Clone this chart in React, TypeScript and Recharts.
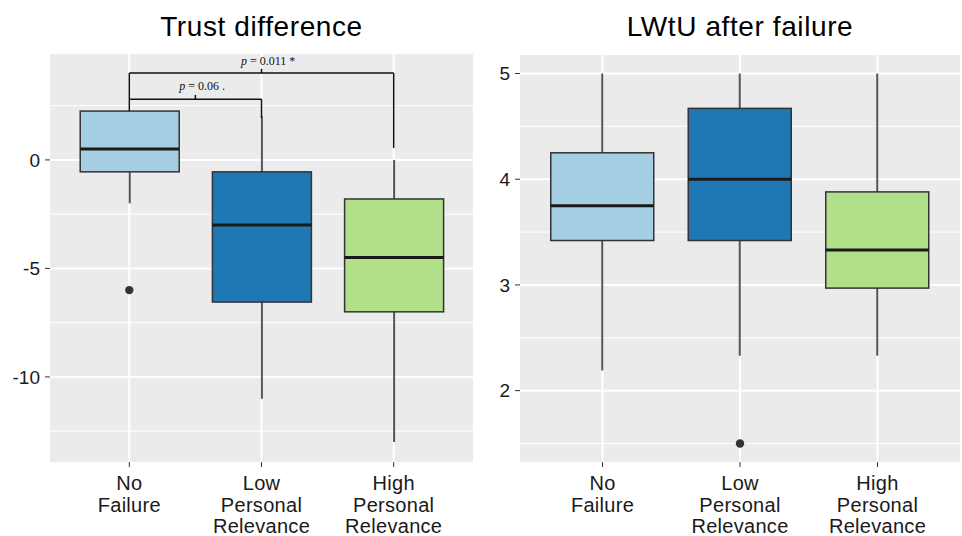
import React from 'react';
import {
  ComposedChart, Bar, Scatter, XAxis, YAxis, CartesianGrid, ReferenceLine, ReferenceDot
} from 'recharts';

// groups (x positions 1..3 on a numeric axis so brackets can sit between them)
const positions = [1, 2, 3];
const categoryLines = [
  ['No', 'Failure'],
  ['Low', 'Personal', 'Relevance'],
  ['High', 'Personal', 'Relevance'],
];
const boxColors = ['#A6CEE3', '#1F78B4', '#B2DF8A'];

// Trust difference
const trustMin = [-2, -11, -13];
const trustQ1 = [-0.55, -6.55, -7.0];
const trustMedian = [0.5, -3, -4.5];
const trustQ3 = [2.25, -0.55, -1.8];
const trustMax = [2.25, 2, 0];
const trustOutliers = [{ x: 1, y: -6 }];
const trustTicks = [-10, -5, 0];
const trustMinor = [-12.5, -7.5, -2.5, 2.5];

// LWtU after failure
const lwtuMin = [2.19, 2.33, 2.33];
const lwtuQ1 = [3.42, 3.42, 2.97];
const lwtuMedian = [3.75, 4.0, 3.33];
const lwtuQ3 = [4.25, 4.67, 3.88];
const lwtuMax = [5, 5, 5];
const lwtuOutliers = [{ x: 2, y: 1.5 }];
const lwtuTicks = [2, 3, 4, 5];
const lwtuMinor = [1.5, 2.5, 3.5, 4.5];

// significance brackets on the trust panel
const brackets = [
  { from: 1, to: 2, y: 2.8, leftEnd: 2.25, rightEnd: 1.93, mid: 1.5, tickTop: 3.0 },
  { from: 1, to: 3, y: 4.0, leftEnd: 2.8, rightEnd: 0.55, mid: 2, tickTop: 4.2 },
];
const pLabels = [
  { x: 1.55, y: 3.2, text: '0.06 .' },
  { x: 2.05, y: 4.38, text: '0.011 *' },
];

const buildBoxes = (min: number[], q1: number[], med: number[], q3: number[], max: number[]) =>
  positions.map((x, i) => ({ x, range: [min[i], max[i]], q1: q1[i], median: med[i], q3: q3[i] }));

const trustData = buildBoxes(trustMin, trustQ1, trustMedian, trustQ3, trustMax);
const lwtuData = buildBoxes(lwtuMin, lwtuQ1, lwtuMedian, lwtuQ3, lwtuMax);

const FONT = '"Liberation Sans", Arial, sans-serif';

const BoxShape = (props: any) => {
  const { x, y, width, height, payload, index } = props;
  const [lo, hi] = payload.range;
  const top = Math.min(y, y + height);
  const h = Math.abs(height);
  const unit = h / (hi - lo);
  const py = (v: number) => top + (hi - v) * unit;
  const cx = x + width / 2;
  return (
    <g>
      <line x1={cx} x2={cx} y1={py(hi)} y2={py(lo)} stroke="#555" strokeWidth={2} />
      <rect
        x={x} y={py(payload.q3)} width={width} height={py(payload.q1) - py(payload.q3)}
        fill={boxColors[index]} stroke="#333" strokeWidth={1.5}
      />
      <line x1={x} x2={x + width} y1={py(payload.median)} y2={py(payload.median)} stroke="#1a1a1a" strokeWidth={3} />
    </g>
  );
};

const OutlierDot = (props: any) => <circle cx={props.cx} cy={props.cy} r={4.2} fill="#333" />;

const pLabelShape = (text: string) => (props: any) => (
  <text x={props.cx} y={props.cy} textAnchor="middle" fontFamily='"Liberation Serif", "Times New Roman", serif' fontSize={12} fill="#111">
    <tspan fontStyle="italic">p</tspan> = {text}
  </text>
);

const CategoryTick = (props: any) => {
  const { x, y, payload } = props;
  const lines = categoryLines[positions.indexOf(payload.value)] || [];
  return (
    <text x={x} y={y} textAnchor="middle" fontFamily={FONT} fontSize={20} letterSpacing={0.3} fill="#1a1a1a">
      {lines.map((l, i) => (
        <tspan key={i} x={x} dy={i === 0 ? 21 : 21.5}>{l}</tspan>
      ))}
    </text>
  );
};

interface PanelProps {
  title: string;
  data: any[];
  outliers: { x: number; y: number }[];
  domain: [number, number];
  ticks: number[];
  minor: number[];
  left: number;
  width: number;
  yAxisWidth: number;
  marginRight: number;
  top: number;
  barSize: number;
  annotate?: boolean;
}

const Panel: React.FC<PanelProps> = ({
  title, data, outliers, domain, ticks, minor, left, width, yAxisWidth, marginRight, top, barSize, annotate
}) => {
  const plotLeft = yAxisWidth;
  const plotWidth = width - yAxisWidth - marginRight;
  return (
    <div style={{ position: 'absolute', left, top: 0, width, height: 536 }}>
      <div style={{
        position: 'absolute', left: plotLeft, width: plotWidth, top: 13, textAlign: 'center',
        fontFamily: FONT, fontSize: 28, lineHeight: '28px', letterSpacing: 0.6, color: '#000'
      }}>
        {title}
      </div>
      <ComposedChart width={width} height={536} data={data} margin={{ top, right: marginRight, bottom: 0, left: 0 }}>
        <CartesianGrid
          fill="#EBEBEB" fillOpacity={1} stroke="#fff" strokeWidth={1}
          vertical={false} horizontalValues={minor}
        />
        <CartesianGrid
          stroke="#fff" strokeWidth={2}
          horizontalValues={ticks} verticalValues={positions}
        />
        <XAxis
          dataKey="x" type="number" domain={[0.4, 3.6]} ticks={positions} allowDataOverflow
          axisLine={false} tickLine={{ stroke: '#333' }} tickSize={5} height={74}
          interval={0} tick={<CategoryTick />}
        />
        <YAxis
          type="number" domain={domain} ticks={ticks} allowDataOverflow width={yAxisWidth}
          axisLine={false} tickLine={{ stroke: '#333' }} tickSize={5} tickMargin={5}
          tick={{ fontFamily: FONT, fontSize: 19, fill: '#1a1a1a' }}
        />
        <Bar dataKey="range" barSize={barSize} shape={<BoxShape />} isAnimationActive={false} />
        <Scatter data={outliers} dataKey="y" shape={<OutlierDot />} isAnimationActive={false} />
        {annotate && brackets.map((b, i) => (
          <React.Fragment key={i}>
            <ReferenceLine segment={[{ x: b.from, y: b.y }, { x: b.to, y: b.y }]} stroke="#111" strokeWidth={1.5} />
            <ReferenceLine segment={[{ x: b.from, y: b.y }, { x: b.from, y: b.leftEnd }]} stroke="#111" strokeWidth={1.5} />
            <ReferenceLine segment={[{ x: b.to, y: b.y }, { x: b.to, y: b.rightEnd }]} stroke="#111" strokeWidth={1.5} />
            <ReferenceLine segment={[{ x: b.mid, y: b.y }, { x: b.mid, y: b.tickTop }]} stroke="#111" strokeWidth={1.5} />
          </React.Fragment>
        ))}
        {annotate && pLabels.map((p, i) => (
          <ReferenceDot key={`p${i}`} x={p.x} y={p.y} r={1} shape={pLabelShape(p.text)} />
        ))}
      </ComposedChart>
    </div>
  );
};

export default function App() {
  return (
    <div style={{ position: 'absolute', left: 0, top: 0, width: 962, height: 536, background: '#fff' }}>
      <Panel
        title="Trust difference" data={trustData} outliers={trustOutliers}
        domain={[-13.92, 4.88]} ticks={trustTicks} minor={trustMinor}
        left={0} width={480} yAxisWidth={50} marginRight={7} top={54} barSize={99} annotate
      />
      <Panel
        title="LWtU after failure" data={lwtuData} outliers={lwtuOutliers}
        domain={[1.325, 5.175]} ticks={lwtuTicks} minor={lwtuMinor}
        left={480} width={482} yAxisWidth={40} marginRight={2} top={55} barSize={103}
      />
    </div>
  );
}
